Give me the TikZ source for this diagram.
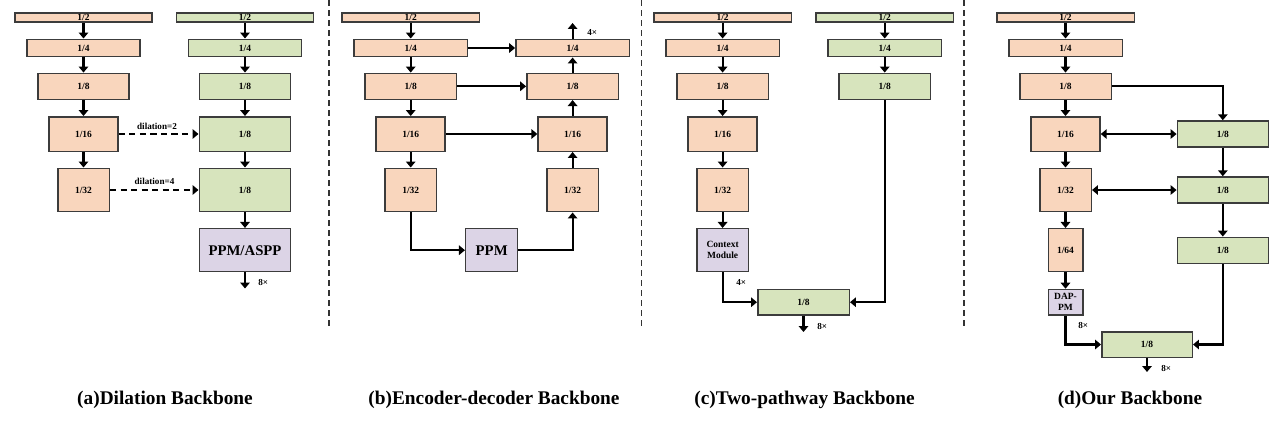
\documentclass[tikz,border=0pt]{standalone}
\usepackage{fontspec}
\setmainfont{Liberation Serif}
\usetikzlibrary{arrows.meta}

\definecolor{encfill}{HTML}{F9D6BD}
\definecolor{detfill}{HTML}{D7E4BD}
\definecolor{modfill}{HTML}{DCD4E6}
\definecolor{boxline}{HTML}{3C3C3C}

\tikzset{
  blk/.style={draw=boxline, line width=0.85pt, inner sep=0pt, align=center,
    font=\bfseries\fontsize{5.4}{6.2}\selectfont},
  enc/.style={blk, fill=encfill},
  det/.style={blk, fill=detfill},
  ctx/.style={blk, fill=modfill},
  sz/.style 2 args={minimum width=#1cm, minimum height=#2cm},
  flow/.style={->, line width=1.25pt},
  skipline/.style={->, line width=1.25pt, dash pattern=on 3.5pt off 2.5pt},
  lbl/.style={inner sep=0pt, font=\bfseries\fontsize{5.2}{6}\selectfont},
  captxt/.style={inner sep=0pt, font=\bfseries\fontsize{11}{13}\selectfont},
  divider/.style={line width=0.6pt, draw=black!80, dash pattern=on 3.4pt off 2.3pt},
}

\begin{document}
\begin{tikzpicture}[x=0.02cm, y=-0.02cm, >={Triangle[length=3.4pt,width=5.4pt]}]
    %\draw [help lines, step=10] (0,0) grid (1280,423);
    \useasboundingbox (0,0) rectangle (1280,423);

    % separators
    \draw[divider] (329,0) -- (329,329);
    \draw[divider] (641.5,0) -- (641.5,329);
    \draw[divider] (964,0) -- (964,329);

    % (a) dilation
    \node[enc, sz={2.75}{0.18}] (a2) at (83.5,17.5) {1/2};
    \node[enc, sz={2.27}{0.35}] (a4) at (83.5,48) {1/4};
    \node[enc, sz={1.83}{0.52}] (a8) at (83.5,86.3) {1/8};
    \node[enc, sz={1.38}{0.69}] (a16) at (83.5,134) {1/16};
    \node[enc, sz={1.03}{0.87}] (a32) at (83.5,190) {1/32};

    \node[det, sz={2.75}{0.18}] (ag2) at (245,17.5) {1/2};
    \node[det, sz={2.27}{0.35}] (ag4) at (245,48) {1/4};
    \node[det, sz={1.83}{0.52}] (ag8a) at (245,86.3) {1/8};
    \node[det, sz={1.83}{0.69}] (ag8b) at (245,134) {1/8};
    \node[det, sz={1.83}{0.87}] (ag8c) at (245,190) {1/8};
    \node[ctx, sz={1.83}{0.86}, font=\bfseries\fontsize{8.4}{10}\selectfont] (appm) at (245,250.2) {PPM/ASPP};
    \coordinate (aend) at (245,288.5);

    \node[lbl] (dil2) at (157,126) {dilation=2};
    \node[lbl] (dil4) at (154.5,181.5) {dilation=4};
    \node[lbl, anchor=west] (aup) at (258,283) {8×};

    \draw[flow] (a2) to (a4);
    \draw[flow] (a4) to (a8);
    \draw[flow] (a8) to (a16);
    \draw[flow] (a16) to (a32);
    \draw[flow] (ag2) to (ag4);
    \draw[flow] (ag4) to (ag8a);
    \draw[flow] (ag8a) to (ag8b);
    \draw[flow] (ag8b) to (ag8c);
    \draw[flow] (ag8c) to (appm);
    \draw[flow] (appm) to (aend);
    \draw[skipline] (a16) to (ag8b);
    \draw[skipline] (a32) to (ag8c);

    % (b) encoder-decoder
    \node[enc, sz={2.75}{0.18}] (b2) at (410.7,17.5) {1/2};
    \node[enc, sz={2.27}{0.35}] (b4) at (410.7,48) {1/4};
    \node[enc, sz={1.83}{0.52}] (b8) at (410.7,86.3) {1/8};
    \node[enc, sz={1.38}{0.69}] (b16) at (410.7,134) {1/16};
    \node[enc, sz={1.03}{0.87}] (b32) at (410.7,190) {1/32};

    \node[enc, sz={2.27}{0.35}] (bu4) at (572.6,48) {1/4};
    \node[enc, sz={1.83}{0.52}] (bu8) at (572.6,86.3) {1/8};
    \node[enc, sz={1.38}{0.69}] (bu16) at (572.6,134) {1/16};
    \node[enc, sz={1.03}{0.87}] (bu32) at (572.6,190) {1/32};
    \node[ctx, sz={1.04}{0.86}, font=\bfseries\fontsize{8.4}{10}\selectfont] (bppm) at (491.7,250.2) {PPM};
    \coordinate (bend) at (572.6,23);
    \node[lbl, anchor=west] (bup) at (587,32) {4×};

    \draw[flow] (b2) to (b4);
    \draw[flow] (b4) to (b8);
    \draw[flow] (b8) to (b16);
    \draw[flow] (b16) to (b32);
    \draw[flow] (b4) to (bu4);
    \draw[flow] (b8) to (bu8);
    \draw[flow] (b16) to (bu16);
    \draw[flow] (b32) |- (bppm);
    \draw[flow] (bppm) -| (bu32);
    \draw[flow] (bu32) to (bu16);
    \draw[flow] (bu16) to (bu8);
    \draw[flow] (bu8) to (bu4);
    \draw[flow] (bu4) to (bend);

    % (c) two-pathway
    \node[enc, sz={2.75}{0.18}] (c2) at (722.6,17.5) {1/2};
    \node[enc, sz={2.27}{0.35}] (c4) at (722.6,48) {1/4};
    \node[enc, sz={1.83}{0.52}] (c8) at (722.6,86.3) {1/8};
    \node[enc, sz={1.38}{0.69}] (c16) at (722.6,134) {1/16};
    \node[enc, sz={1.03}{0.87}] (c32) at (722.6,190) {1/32};
    \node[ctx, sz={1.03}{0.86}] (ccm) at (722.6,250.2) {Context\\Module};

    \node[det, sz={2.75}{0.18}] (cg2) at (884.7,17.5) {1/2};
    \node[det, sz={2.27}{0.35}] (cg4) at (884.7,48) {1/4};
    \node[det, sz={1.83}{0.52}] (cg8) at (884.7,86.3) {1/8};
    \node[det, sz={1.83}{0.51}] (cout) at (803.5,302.2) {1/8};
    \coordinate (cend) at (803.5,332);
    \node[lbl, anchor=west] (cup) at (736,282) {4×};
    \node[lbl, anchor=west] (cdown) at (817,326) {8×};

    \draw[flow] (c2) to (c4);
    \draw[flow] (c4) to (c8);
    \draw[flow] (c8) to (c16);
    \draw[flow] (c16) to (c32);
    \draw[flow] (c32) to (ccm);
    \draw[flow] (cg2) to (cg4);
    \draw[flow] (cg4) to (cg8);
    \draw[flow] (ccm) |- (cout);
    \draw[flow] (cg8) |- (cout);
    \draw[flow] (cout) to (cend);

    % (d) ours
    \node[enc, sz={2.75}{0.18}] (d2) at (1065.5,17.5) {1/2};
    \node[enc, sz={2.27}{0.35}] (d4) at (1065.5,48) {1/4};
    \node[enc, sz={1.83}{0.52}] (d8) at (1065.5,86.3) {1/8};
    \node[enc, sz={1.38}{0.69}] (d16) at (1065.5,134) {1/16};
    \node[enc, sz={1.03}{0.87}] (d32) at (1065.5,190) {1/32};
    \node[enc, sz={0.69}{0.86}] (d64) at (1065.5,250.2) {1/64};
    \node[ctx, sz={0.69}{0.51}] (ddap) at (1065.5,302.2) {DAP-\\PM};

    \node[det, sz={1.82}{0.52}] (dg8a) at (1222.8,134) {1/8};
    \node[det, sz={1.82}{0.52}] (dg8b) at (1222.8,190) {1/8};
    \node[det, sz={1.82}{0.52}] (dg8c) at (1222.8,250.3) {1/8};
    \node[det, sz={1.81}{0.51}] (dout) at (1147,344.5) {1/8};
    \coordinate (dend) at (1147,372);
    \node[lbl, anchor=west] (dup) at (1078,325) {8×};
    \node[lbl, anchor=west] (ddown) at (1161,368) {8×};

    \draw[flow] (d2) to (d4);
    \draw[flow] (d4) to (d8);
    \draw[flow] (d8) to (d16);
    \draw[flow] (d16) to (d32);
    \draw[flow] (d32) to (d64);
    \draw[flow] (d64) to (ddap);
    \draw[flow] (d8) -| (dg8a);
    \draw[flow, <->] (d16) to (dg8a);
    \draw[flow, <->] (d32) to (dg8b);
    \draw[flow] (dg8a) to (dg8b);
    \draw[flow] (dg8b) to (dg8c);
    \draw[flow] (dg8c) |- (dout);
    \draw[flow] (ddap) |- (dout);
    \draw[flow] (dout) to (dend);

    % captions
    \node[captxt] (capa) at (165,399.5) {(a)Dilation Backbone};
    \node[captxt] (capb) at (494,399.5) {(b)Encoder-decoder Backbone};
    \node[captxt] (capc) at (804.5,399.5) {(c)Two-pathway Backbone};
    \node[captxt] (capd) at (1130,399.5) {(d)Our Backbone};
\end{tikzpicture}
\end{document}
